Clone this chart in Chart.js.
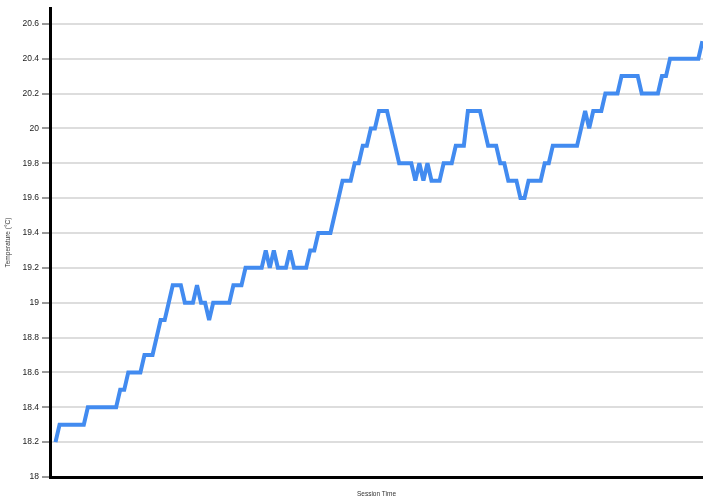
<!DOCTYPE html>
<html>
<head>
<meta charset="utf-8">
<title>Temperature over session</title>
<script src="https://cdn.jsdelivr.net/npm/chart.js@4.4.1/dist/chart.umd.min.js"></script>
<style>
  html, body { margin: 0; padding: 0; background: #ffffff; }
  #wrap { width: 703px; height: 503px; }
</style>
</head>
<body>
<div id="wrap"><canvas id="chart" width="703" height="503"></canvas></div>
<script>
// Temperature readings (°C), one per sample across the session
const temperatures = [
  18.2,
  18.3, 18.3, 18.3, 18.3, 18.3, 18.3, 18.3,
  18.4, 18.4, 18.4, 18.4, 18.4, 18.4, 18.4, 18.4,
  18.5, 18.5,
  18.6, 18.6, 18.6, 18.6,
  18.7, 18.7, 18.7,
  18.8,
  18.9, 18.9,
  19.0,
  19.1, 19.1, 19.1,
  19.0, 19.0, 19.0,
  19.1,
  19.0, 19.0,
  18.9,
  19.0, 19.0, 19.0, 19.0, 19.0,
  19.1, 19.1, 19.1,
  19.2, 19.2, 19.2, 19.2, 19.2,
  19.3, 19.2, 19.3,
  19.2, 19.2, 19.2,
  19.3,
  19.2, 19.2, 19.2, 19.2,
  19.3, 19.3,
  19.4, 19.4, 19.4, 19.4,
  19.5, 19.6,
  19.7, 19.7, 19.7,
  19.8, 19.8,
  19.9, 19.9,
  20.0, 20.0,
  20.1, 20.1, 20.1,
  20.0, 19.9,
  19.8, 19.8, 19.8, 19.8,
  19.7, 19.8, 19.7, 19.8,
  19.7, 19.7, 19.7,
  19.8, 19.8, 19.8,
  19.9, 19.9, 19.9,
  20.1, 20.1, 20.1, 20.1,
  20.0,
  19.9, 19.9, 19.9,
  19.8, 19.8,
  19.7, 19.7, 19.7,
  19.6, 19.6,
  19.7, 19.7, 19.7, 19.7,
  19.8, 19.8,
  19.9, 19.9, 19.9, 19.9, 19.9, 19.9, 19.9,
  20.0, 20.1, 20.0,
  20.1, 20.1, 20.1,
  20.2, 20.2, 20.2, 20.2,
  20.3, 20.3, 20.3, 20.3, 20.3,
  20.2, 20.2, 20.2, 20.2, 20.2,
  20.3, 20.3,
  20.4, 20.4, 20.4, 20.4, 20.4, 20.4, 20.4, 20.4,
  20.5
];

// Session time: sample number of each reading
const sessionTime = temperatures.map((_, i) => i);

// Y axis tick values and their printed labels
const yTickValues = [18, 18.2, 18.4, 18.6, 18.8, 19, 19.2, 19.4, 19.6, 19.8, 20, 20.2, 20.4, 20.6];
const yTickLabels = ['18', '18.2', '18.4', '18.6', '18.8', '19', '19.2', '19.4', '19.6', '19.8', '20', '20.2', '20.4', '20.6'];

const xTitle = 'Session Time';
const yTitle = 'Temperature (°C)';

const points = sessionTime.map((t, i) => ({ x: t, y: temperatures[i] }));

// Sharp corners get bevelled instead of long miter spikes
const joinLimit = {
  id: 'joinLimit',
  beforeDatasetsDraw(chart) { chart.ctx.save(); chart.ctx.miterLimit = 4; },
  afterDatasetsDraw(chart) { chart.ctx.restore(); }
};

const axisFont = { family: '"Liberation Sans", Arial, sans-serif', size: 8.5 };
const titleFont = { family: '"Liberation Sans", Arial, sans-serif', size: 6.5 };

new Chart(document.getElementById('chart'), {
  type: 'line',
  data: {
    datasets: [{
      data: points,
      borderColor: '#428bf0',
      borderWidth: 4,
      pointRadius: 0,
      pointHoverRadius: 0,
      tension: 0,
      fill: false,
      borderJoinStyle: 'miter',
      borderCapStyle: 'butt'
    }]
  },
  plugins: [joinLimit],
  options: {
    responsive: false,
    animation: false,
    devicePixelRatio: 1,
    layout: { padding: { top: 3, left: 0, right: 0, bottom: 0 } },
    plugins: {
      legend: { display: false },
      tooltip: { enabled: false }
    },
    events: [],
    scales: {
      x: {
        type: 'linear',
        min: -1.36,
        max: 160.15,
        afterFit(scale) { scale.height = 26; },
        ticks: { display: false },
        grid: { display: false, drawTicks: false },
        border: { display: true, color: '#000000', width: 3 },
        title: {
          display: true,
          text: xTitle,
          color: '#333333',
          font: titleFont,
          padding: { top: 0, bottom: 5 }
        }
      },
      y: {
        type: 'linear',
        min: 18,
        max: 20.69,
        afterFit(scale) { scale.width = 50; },
        afterBuildTicks(scale) {
          scale.ticks = yTickValues.map(v => ({ value: v }));
        },
        ticks: {
          color: '#222222',
          font: axisFont,
          padding: 3,
          autoSkip: false,
          callback(value) {
            const i = yTickValues.findIndex(v => Math.abs(v - value) < 1e-6);
            return i >= 0 ? yTickLabels[i] : '';
          }
        },
        grid: {
          color: '#dddddd',
          lineWidth: 2,
          drawTicks: true,
          tickLength: 8,
          tickColor: '#333333',
          tickWidth: 1
        },
        border: { display: true, color: '#000000', width: 3 },
        title: {
          display: true,
          text: yTitle,
          color: '#333333',
          font: titleFont,
          padding: { top: 4, bottom: 0 }
        }
      }
    }
  }
});
</script>
</body>
</html>
